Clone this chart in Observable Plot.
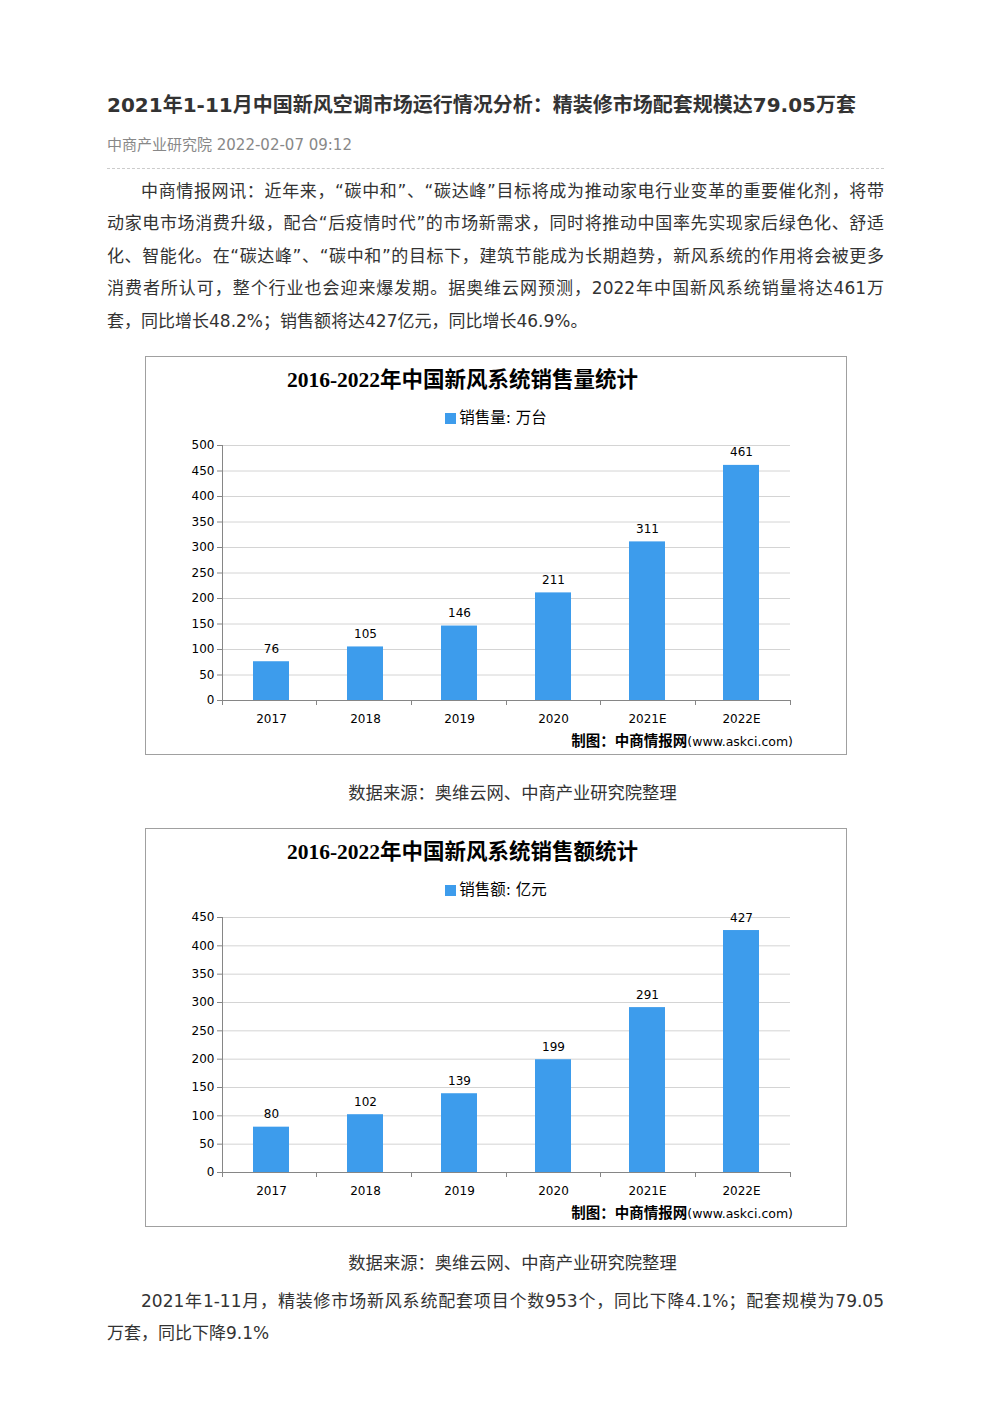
<!DOCTYPE html>
<html>
<head>
<meta charset="utf-8">
<script src="https://cdn.jsdelivr.net/npm/d3@7"></script>
<script src="https://cdn.jsdelivr.net/npm/@observablehq/plot@0.6"></script>
<style>
  html, body { margin: 0; padding: 0; background: #fff; }
  body { width: 992px; height: 1403px; position: relative; font-family: "DejaVu Sans", "Noto Sans CJK SC", sans-serif; color: #333; }
  .abs { position: absolute; }
  .title { left: 107px; top: 90px; font-size: 20px; line-height: 30px; font-weight: bold; color: #333; white-space: nowrap; }
  .meta { left: 107px; top: 135px; font-size: 15px; line-height: 20px; color: #888; white-space: nowrap; }
  .dash { left: 107px; top: 168px; width: 777px; border-top: 1px dashed #ccc; }
  .para { left: 107px; width: 777px; font-size: 17px; line-height: 32.5px; color: #333; }
  .para div { white-space: nowrap; text-align: justify; text-align-last: justify; }
  .para div.last { text-align-last: left; }
  .para div.first { padding-left: 34px; }
  .caption { left: 107px; width: 777px; font-size: 17.3px; line-height: 24px; text-align: center; text-indent: 34px; color: #333; }
  .box { left: 145px; width: 700px; height: 397px; border: 1px solid #a0a0a0; background: #fff; }
  .ctitle { left: 0; top: 9px; width: 633px; text-align: center; font-family: "Liberation Serif", "Noto Sans CJK SC", serif; font-weight: bold; font-size: 21.5px; line-height: 28px; color: #000; white-space: nowrap; }
  .legend { left: 0; top: 51px; width: 700px; text-align: center; font-size: 15.5px; line-height: 20px; color: #000; white-space: nowrap; }
  .legend .sw { display: inline-block; width: 11px; height: 11px; background: #3d9cec; margin-right: 3px; vertical-align: -1px; }
  .plot { left: 0; top: 80px; }
  .credit { right: 53px; top: 374px; line-height: 18px; color: #000; white-space: nowrap; }
  .credit b { font-size: 14.5px; font-family: "Noto Sans CJK SC", sans-serif; }
  .credit span { font-size: 12.5px; font-family: "DejaVu Sans", sans-serif; }
</style>
</head>
<body>
<script>
// ---- data ----
const years = ["2017", "2018", "2019", "2020", "2021E", "2022E"];
const salesVolume = [76, 105, 146, 211, 311, 461];     // 万台
const salesValue = [80, 102, 139, 199, 291, 427];       // 亿元
const volumeTicks = [0, 50, 100, 150, 200, 250, 300, 350, 400, 450, 500];
const valueTicks = [0, 50, 100, 150, 200, 250, 300, 350, 400, 450];

const pageTitle = "2021年1-11月中国新风空调市场运行情况分析：精装修市场配套规模达79.05万套";
const pageMeta = "中商产业研究院 2022-02-07 09:12";
const para1 = [
  "中商情报网讯：近年来，“碳中和”、“碳达峰”目标将成为推动家电行业变革的重要催化剂，将带",
  "动家电市场消费升级，配合“后疫情时代”的市场新需求，同时将推动中国率先实现家后绿色化、舒适",
  "化、智能化。在“碳达峰”、“碳中和”的目标下，建筑节能成为长期趋势，新风系统的作用将会被更多",
  "消费者所认可，整个行业也会迎来爆发期。据奥维云网预测，2022年中国新风系统销量将达461万",
  "套，同比增长48.2%；销售额将达427亿元，同比增长46.9%。"
];
const para2 = [
  "2021年1-11月，精装修市场新风系统配套项目个数953个，同比下降4.1%；配套规模为79.05",
  "万套，同比下降9.1%"
];
const captionText = "数据来源：奥维云网、中商产业研究院整理";
const charts = [
  {title: "2016-2022年中国新风系统销售量统计", legend: "销售量: 万台", values: salesVolume, ticks: volumeTicks, max: 500, top: 356, captionTop: 781},
  {title: "2016-2022年中国新风系统销售额统计", legend: "销售额: 亿元", values: salesValue, ticks: valueTicks, max: 450, top: 828, captionTop: 1251}
];

// ---- page text ----
function addDiv(cls, text, style) {
  const d = document.createElement("div");
  d.className = "abs " + cls;
  if (text != null) d.textContent = text;
  if (style) Object.assign(d.style, style);
  document.body.appendChild(d);
  return d;
}
addDiv("title", pageTitle);
addDiv("meta", pageMeta);
addDiv("dash", null);

function addPara(lines, top) {
  const p = addDiv("para", null, {top: top + "px"});
  lines.forEach((t, i) => {
    const l = document.createElement("div");
    l.textContent = t;
    if (i === 0) l.classList.add("first");
    if (i === lines.length - 1) l.classList.add("last");
    p.appendChild(l);
  });
}
addPara(para1, 174.75);
addPara(para2, 1284.75);

// ---- custom frame: y-axis line, baseline, category boundary ticks ----
function categoryFrame(index, scales, values, dim) {
  const {width, height, marginLeft, marginRight, marginTop, marginBottom} = dim;
  const x0 = marginLeft, x1 = width - marginRight;
  const yb = height - marginBottom;
  const g = d3.create("svg:g").attr("stroke", "#868686").attr("fill", "none").attr("shape-rendering", "crispEdges");
  g.append("line").attr("x1", x0).attr("x2", x0).attr("y1", marginTop).attr("y2", yb + 5);
  g.append("line").attr("x1", x0).attr("x2", x1).attr("y1", yb).attr("y2", yb);
  const n = years.length;
  for (let k = 1; k <= n; k++) {
    const xx = x0 + (x1 - x0) * k / n;
    g.append("line").attr("x1", xx).attr("x2", xx).attr("y1", yb).attr("y2", yb + 5);
  }
  return g.node();
}

// ---- charts ----
charts.forEach(c => {
  const box = addDiv("box", null, {top: c.top + "px"});
  const t = document.createElement("div");
  t.className = "abs ctitle"; t.textContent = c.title; box.appendChild(t);
  const lg = document.createElement("div");
  lg.className = "abs legend";
  const sw = document.createElement("span"); sw.className = "sw";
  lg.appendChild(sw); lg.appendChild(document.createTextNode(c.legend));
  box.appendChild(lg);

  const data = years.map((y, i) => ({year: y, value: c.values[i]}));
  const svg = Plot.plot({
    width: 700,
    height: 291,
    marginLeft: 76,
    marginRight: 56,
    marginTop: 8,
    marginBottom: 28,
    style: {fontFamily: "DejaVu Sans, Noto Sans CJK SC, sans-serif", fontSize: "12px", color: "#000", background: "transparent"},
    x: {domain: years, paddingInner: 0.62, paddingOuter: 0.31, label: null},
    y: {domain: [0, c.max], label: null},
    marks: [
      Plot.gridY(c.ticks.filter(v => v > 0), {stroke: "#d4d4d4", strokeOpacity: 1}),
      Plot.barY(data, {x: "year", y: "value", fill: "#3d9cec"}),
      categoryFrame,
      Plot.axisY(c.ticks, {tickSize: 5, tickPadding: 3, stroke: "#868686", fill: "#000", fontSize: 12, label: null}),
      Plot.axisX({tickSize: 0, tickPadding: 14, fill: "#000", fontSize: 12, label: null}),
      Plot.text(data, {x: "year", y: "value", text: d => String(d.value), dy: -9, lineAnchor: "bottom", fill: "#000", fontSize: 12})
    ]
  });
  svg.classList.add("abs", "plot");
  svg.style.position = "absolute";
  svg.style.left = "0px";
  svg.style.top = "80px";
  box.appendChild(svg);

  const cr = document.createElement("div");
  cr.className = "abs credit";
  cr.innerHTML = "<b>制图：中商情报网</b><span>(www.askci.com)</span>";
  box.appendChild(cr);

  addDiv("caption", captionText, {top: c.captionTop + "px"});
});
</script>
</body>
</html>
